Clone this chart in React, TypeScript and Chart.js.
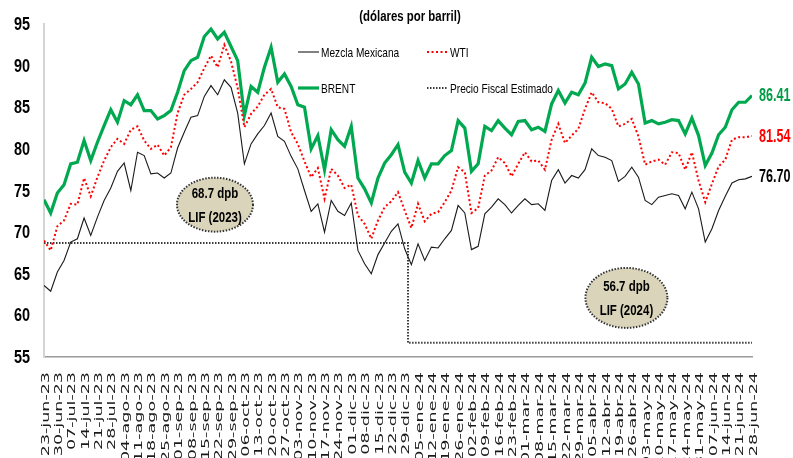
import React, { useEffect, useRef } from 'react';
import { Chart, registerables } from 'chart.js';

Chart.register(...registerables);

// ---------- data ----------
const title = '(dólares por barril)';

const weekLabels = [
  '23-jun-23', '30-jun-23', '07-jul-23', '14-jul-23', '21-jul-23', '28-jul-23',
  '04-ago-23', '11-ago-23', '18-ago-23', '25-ago-23', '01-sep-23', '08-sep-23',
  '15-sep-23', '22-sep-23', '29-sep-23', '06-oct-23', '13-oct-23', '20-oct-23',
  '27-oct-23', '03-nov-23', '10-nov-23', '17-nov-23', '24-nov-23', '01-dic-23',
  '08-dic-23', '15-dic-23', '22-dic-23', '29-dic-23', '05-ene-24', '12-ene-24',
  '19-ene-24', '26-ene-24', '02-feb-24', '09-feb-24', '16-feb-24', '23-feb-24',
  '01-mar-24', '08-mar-24', '15-mar-24', '22-mar-24', '29-mar-24', '05-abr-24',
  '12-abr-24', '19-abr-24', '26-abr-24', '03-may-24', '10-may-24', '17-may-24',
  '24-may-24', '31-may-24', '07-jun-24', '14-jun-24', '21-jun-24', '28-jun-24',
];

// two readings per week (week index = position / samplesPerWeek)
const samplesPerWeek = 2;

const brent = [
  73.9, 72.3, 74.7, 75.7, 78.2, 78.4, 81.0, 78.6, 80.8, 82.8,
  84.7, 83.2, 85.8, 85.3, 86.5, 84.6, 84.6, 83.6, 84.0, 84.6,
  86.8, 89.4, 90.6, 91.0, 93.5, 94.4, 93.2, 94.0, 92.3, 90.6,
  84.0, 87.5, 86.8, 89.8, 92.2, 88.0, 89.0, 87.5, 85.3, 85.0,
  80.0, 81.6, 77.5, 82.3, 81.1, 80.3, 82.7, 76.5, 75.2, 73.5,
  76.5, 78.3, 79.3, 80.5, 77.2, 75.9, 78.6, 76.5, 78.2, 78.2,
  79.2, 79.8, 83.4, 82.5, 77.3, 78.2, 82.7, 82.2, 83.4, 82.5,
  81.7, 83.3, 83.4, 82.3, 82.6, 82.1, 85.4, 87.0, 85.5, 86.8,
  86.5, 87.9, 91.0, 89.9, 90.2, 90.0, 87.2, 87.8, 89.2, 87.8,
  83.1, 83.4, 83.0, 83.2, 83.5, 83.4, 81.8, 83.7, 81.6, 78.0,
  79.5, 81.7, 82.6, 84.7, 85.6, 85.6, 86.41,
];

const wti = [
  69.0, 67.8, 70.7, 71.4, 73.4, 73.3, 76.5, 74.3, 76.6, 78.6,
  80.2, 81.2, 80.6, 82.3, 82.7, 81.0, 80.0, 80.5, 79.2, 80.2,
  84.3, 86.5, 87.2, 88.0, 89.7, 91.2, 89.8, 92.5, 90.5, 87.3,
  82.6, 84.2, 85.1, 86.5, 87.2, 85.0, 84.8, 82.0, 80.6, 78.5,
  76.6, 77.7, 74.0, 77.6, 76.8, 75.3, 75.7, 72.0, 71.0, 69.2,
  71.4, 73.0, 73.7, 74.8, 72.6, 70.5, 73.4, 71.3, 72.2, 72.4,
  73.6, 75.0, 77.8, 77.2, 72.3, 72.9, 76.8, 77.4, 79.0, 78.3,
  76.7, 78.2, 79.6, 78.5, 78.6, 77.5, 81.1, 83.0, 80.7, 81.6,
  82.4, 84.8, 86.8, 85.6, 85.5, 84.8, 82.7, 83.0, 83.6, 81.5,
  78.1, 78.5, 78.7, 78.1, 79.6, 79.5, 77.5, 79.6, 76.2, 73.6,
  75.8, 77.9, 78.7, 81.1, 81.4, 81.4, 81.54,
];

const mezcla = [
  63.6, 62.9, 65.2, 66.6, 68.8, 69.2, 71.7, 69.6, 71.8, 73.8,
  75.3, 77.3, 78.3, 75.0, 79.6, 79.2, 77.0, 77.1, 76.5, 77.1,
  80.1, 82.0, 83.8, 84.0, 86.3, 87.6, 86.5, 88.3, 87.4, 84.3,
  78.2, 80.6, 81.8, 82.8, 84.3, 81.5, 80.9, 79.1, 77.6, 75.0,
  72.5, 73.4, 70.0, 73.8, 72.5, 72.0, 73.5, 67.8, 66.2, 65.0,
  67.3, 68.7, 70.1, 71.0, 68.0, 66.1, 68.6, 66.6, 68.2, 68.1,
  69.2, 70.2, 73.2, 72.3, 67.9, 68.3, 72.2, 73.0, 74.0, 73.3,
  72.3, 73.2, 74.0, 73.3, 73.4, 72.6, 76.2, 77.5, 75.9, 76.8,
  76.5, 77.5, 80.0, 79.2, 79.0, 78.6, 76.1, 76.7, 77.8, 76.6,
  73.8, 73.3, 74.2, 74.4, 74.6, 74.4, 72.8, 74.8, 72.8, 68.8,
  70.4, 72.6, 74.3, 75.9, 76.3, 76.4, 76.70,
];

// Precio fiscal estimado (LIF 2023 / LIF 2024) and the first reading of 2024
const fiscalPrices = [68.7, 56.7];
const fiscalYears = ['2023', '2024'];
const fiscalChangeIndex = 55;

const seriesNames = ['Mezcla Mexicana', 'WTI', 'BRENT', 'Precio Fiscal Estimado'];

const yMin = 55;
const yMax = 95;
const yStep = 5;

// ---------- styling ----------
const SANS = '"Liberation Sans", Arial, sans-serif';
const GREEN = '#00A850';
const RED = '#FF0000';
const BLACK = '#1a1a1a';
const FISCAL = '#3a3a3a';

// annotation bubbles anchored in data coordinates (week, price)
const bubbleAnchors = [
  { week: 12.8, price: 73.3, rx: 38, ry: 27 },
  { week: 43.6, price: 62.1, rx: 41, ry: 30 },
];

// legend slot positions (pixels)
const legendSlots = [
  { x: 298, y: 52 },
  { x: 427, y: 52 },
  { x: 298, y: 88 },
  { x: 427, y: 88 },
];

const toPoints = (arr: number[]) => arr.map((v, k) => ({ x: k / samplesPerWeek, y: v }));
const fiscalSeries = brent.map((_, k) => (k < fiscalChangeIndex ? fiscalPrices[0] : fiscalPrices[1]));

function drawText(
  ctx: CanvasRenderingContext2D,
  text: string,
  x: number,
  y: number,
  font: string,
  color: string,
  sx: number,
  align: CanvasTextAlign,
) {
  ctx.save();
  ctx.translate(x, y);
  ctx.scale(sx, 1);
  ctx.font = font;
  ctx.fillStyle = color;
  ctx.textAlign = align;
  ctx.textBaseline = 'middle';
  ctx.fillText(text, 0, 0);
  ctx.restore();
}

const overlayPlugin = {
  id: 'overlay',
  afterDraw(chart: any) {
    const { ctx, chartArea } = chart;
    const xs = chart.scales.x;
    const ys = chart.scales.y;

    // title
    drawText(ctx, title, 410, 17, `bold 15px ${SANS}`, '#000', 0.76, 'center');

    // y tick labels
    for (let v = yMin; v <= yMax; v += yStep) {
      drawText(ctx, String(v), 30, ys.getPixelForValue(v) + 1, `bold 18.5px ${SANS}`, '#000', 0.78, 'right');
    }

    // legend
    chart.data.datasets.forEach((ds: any, i: number) => {
      const slot = legendSlots[i];
      ctx.save();
      ctx.strokeStyle = ds.borderColor;
      ctx.lineWidth = ds.borderWidth;
      ctx.setLineDash(ds.borderDash || []);
      ctx.beginPath();
      ctx.moveTo(slot.x, slot.y);
      ctx.lineTo(slot.x + 21, slot.y);
      ctx.stroke();
      ctx.restore();
      drawText(ctx, ds.label, slot.x + 23, slot.y + 1, `13.5px ${SANS}`, '#000', 0.75, 'left');
    });

    // x tick labels (rotated)
    ctx.save();
    ctx.fillStyle = '#1a1a1a';
    ctx.font = '10px "DejaVu Sans", Verdana, sans-serif';
    weekLabels.forEach((lab, i) => {
      const px = xs.getPixelForValue(i) + 2;
      ctx.save();
      ctx.translate(px, chartArea.bottom + 15);
      ctx.rotate(-Math.PI / 2);
      ctx.scale(1.75, 1);
      ctx.textAlign = 'right';
      ctx.textBaseline = 'middle';
      ctx.fillText(lab, 0, 0);
      ctx.restore();
    });
    ctx.restore();

    // end-value labels
    const ends = [
      { v: brent[brent.length - 1], c: '#009B45' },
      { v: wti[wti.length - 1], c: RED },
      { v: mezcla[mezcla.length - 1], c: '#000' },
    ];
    ends.forEach((e) => {
      drawText(ctx, e.v.toFixed(2), chartArea.right + 7, ys.getPixelForValue(e.v) + 1, `bold 17.5px ${SANS}`, e.c, 0.72, 'left');
    });

    // fiscal price bubbles
    bubbleAnchors.forEach((b, i) => {
      const cx = xs.getPixelForValue(b.week);
      const cy = ys.getPixelForValue(b.price);
      ctx.save();
      ctx.beginPath();
      ctx.ellipse(cx, cy, b.rx, b.ry, 0, 0, Math.PI * 2);
      ctx.fillStyle = '#D9D4BA';
      ctx.fill();
      ctx.setLineDash([1.5, 1.5]);
      ctx.lineWidth = 2;
      ctx.strokeStyle = '#333';
      ctx.stroke();
      ctx.restore();
      drawText(ctx, `${fiscalPrices[i]} dpb`, cx, cy - 11, `bold 15.5px ${SANS}`, '#000', 0.74, 'center');
      drawText(ctx, `LIF (${fiscalYears[i]})`, cx, cy + 13, `bold 15.5px ${SANS}`, '#000', 0.74, 'center');
    });
  },
};

export default function App() {
  const ref = useRef<HTMLCanvasElement | null>(null);

  useEffect(() => {
    if (!ref.current) return;
    const chart = new Chart(ref.current, {
      type: 'line',
      data: {
        datasets: [
          {
            label: seriesNames[0],
            data: toPoints(mezcla),
            borderColor: BLACK,
            borderWidth: 1.1,
            pointRadius: 0,
            tension: 0,
          },
          {
            label: seriesNames[1],
            data: toPoints(wti),
            borderColor: RED,
            borderWidth: 2,
            borderDash: [2, 2.5],
            pointRadius: 0,
            tension: 0,
          },
          {
            label: seriesNames[2],
            data: toPoints(brent),
            borderColor: GREEN,
            borderWidth: 3.2,
            pointRadius: 0,
            tension: 0,
          },
          {
            label: seriesNames[3],
            data: toPoints(fiscalSeries),
            borderColor: FISCAL,
            borderWidth: 2,
            borderDash: [1.5, 1.5],
            pointRadius: 0,
            stepped: 'middle',
          },
        ],
      } as any,
      options: {
        responsive: false,
        maintainAspectRatio: false,
        animation: false,
        devicePixelRatio: 1,
        layout: { padding: { top: 24, right: 41, left: 0, bottom: 0 } },
        plugins: { legend: { display: false }, tooltip: { enabled: false } },
        scales: {
          x: {
            type: 'linear',
            min: 0,
            max: weekLabels.length - 1,
            grid: { display: false, drawTicks: false },
            border: { display: true, color: '#9a9a9a', width: 1.5 },
            ticks: { display: false, stepSize: 1 },
            afterFit: (scale: any) => {
              scale.height = 101;
            },
          },
          y: {
            min: yMin,
            max: yMax,
            grid: { display: false, drawTicks: false },
            border: { display: true, color: '#D4D4D4', width: 2 },
            ticks: { display: false, stepSize: yStep },
            afterFit: (scale: any) => {
              scale.width = 44;
            },
          },
        },
      } as any,
      plugins: [overlayPlugin],
    });
    return () => chart.destroy();
  }, []);

  return (
    <div style={{ position: 'absolute', left: 0, top: 0, width: 793, height: 458, overflow: 'hidden', background: '#fff' }}>
      <canvas ref={ref} width={793} height={458} style={{ display: 'block' }} />
    </div>
  );
}
